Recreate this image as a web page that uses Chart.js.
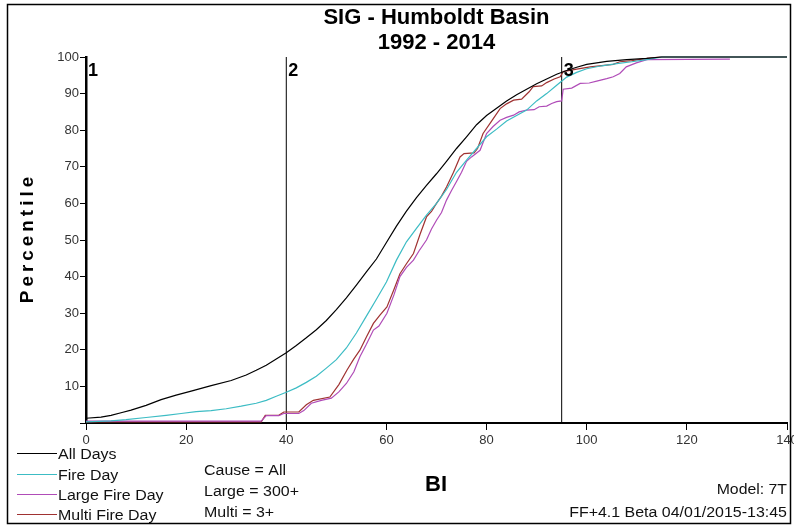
<!DOCTYPE html>
<html>
<head>
<meta charset="utf-8">
<title>SIG - Humboldt Basin</title>
<script src="https://cdn.jsdelivr.net/npm/chart.js@4.4.1/dist/chart.umd.min.js"></script>
<style>
  body { margin: 0; background: #fff; }
  canvas { display: block; }
</style>
</head>
<body>
<canvas id="chart" width="794" height="526"></canvas>
<script>
// series (BI value, percentile)
var allDaysX = [0, 3, 5, 7, 9, 12, 15, 18, 21, 25, 29, 32, 34, 36, 38, 40, 42, 44, 46, 48, 50, 52, 54, 56, 58, 60, 62, 64, 66, 68, 70, 72, 74, 76, 78, 80, 82, 84, 86, 88, 90, 92, 94, 96, 98, 100, 104, 108, 112, 115, 140];
var allDaysY = [1.3, 1.6, 2.1, 2.8, 3.5, 4.8, 6.4, 7.6, 8.7, 10.2, 11.6, 13.1, 14.4, 15.8, 17.5, 19.2, 21.2, 23.3, 25.5, 28, 31, 34.2, 37.7, 41.3, 44.8, 49.3, 53.8, 57.9, 61.6, 64.9, 68.1, 71.5, 75, 78.2, 81.5, 84, 86, 88, 89.7, 91.2, 92.7, 94, 95.3, 96.3, 97.2, 98, 98.8, 99.3, 99.6, 100, 100];

var fireDayX = [0, 5, 8, 12, 16, 19, 22, 25, 28, 31, 34, 36, 38, 40, 42, 44, 46, 48, 50, 52, 54, 56, 58, 60, 62, 64, 66, 68, 70, 72, 74, 76, 78, 80, 82, 84, 86, 88, 90, 92, 94, 96, 98, 100, 103, 106, 109, 112, 115, 140];
var fireDayY = [0.3, 0.6, 0.9, 1.5, 2.1, 2.6, 3.1, 3.4, 3.9, 4.6, 5.4, 6.2, 7.3, 8.4, 9.6, 11.1, 12.8, 15, 17.3, 20.5, 24.6, 29.2, 33.8, 38.5, 44.5, 49.5, 53.2, 56.8, 60, 63.8, 68.5, 71.8, 75, 78.2, 80.3, 82.5, 84, 85.5, 88, 90, 92.3, 94.5, 95.8, 96.8, 97.6, 98.2, 98.7, 99.3, 100, 100];

var largeX = [0, 35, 36, 38.5, 39.5, 42.5, 43.5, 45, 47, 49, 50.5, 52, 53.5, 54.7, 56, 57.4, 58.5, 60.1, 61.5, 62.7, 64, 65.4, 66.5, 68, 69, 70, 71, 72, 73, 74, 75, 76, 77, 78.7, 80, 81.3, 82.7, 84, 85.4, 86.5, 88, 89.5, 90.5, 92, 93, 94, 95, 95.3, 97, 98.7, 100.5, 102, 104, 105.3, 106.6, 107.9, 109.9, 112, 128.6];
var largeY = [0.5, 0.5, 2.0, 2.0, 2.6, 2.6, 3.4, 5.4, 6.2, 6.8, 8.5, 10.8, 14, 18.1, 21.5, 25.4, 26.5, 30, 35, 40, 42.5, 44.5, 47, 50, 53, 55.4, 57.5, 60.9, 63.5, 66, 68.5, 71.5, 72.7, 74.5, 79.1, 81, 82.7, 83.5, 84.1, 85, 85.5, 85.6, 86.4, 86.6, 87.3, 87.8, 88, 91.2, 91.5, 92.8, 92.9, 93.4, 94.1, 94.6, 95.5, 97.3, 98.4, 99.3, 99.4];

var multiX = [0, 35, 35.8, 38.5, 39.5, 42.5, 44, 45.4, 48.7, 50.5, 52.1, 53.5, 54.7, 56, 57.4, 58.7, 60.1, 61.5, 62.7, 64, 65.4, 66.7, 68, 69, 70, 71, 72, 73.4, 74.7, 75.5, 77.5, 78.2, 79.3, 81, 82.7, 84, 85.4, 87, 88.5, 89.3, 91, 92, 93.5, 94.7, 95.3, 98, 100.7, 105.3, 106.6, 109, 112, 114.6, 140];
var multiY = [0.3, 0.3, 2.1, 2.1, 3.0, 3.0, 5, 6.2, 7.1, 10.5, 14.4, 17.5, 19.9, 23.5, 27.2, 29.5, 31.7, 36.5, 40.8, 43.5, 46.3, 51.5, 56.3, 57.8, 60, 62, 64.5, 68.5, 72.7, 73.6, 73.8, 75, 79.1, 82.5, 85.9, 87.2, 88.2, 88.5, 90.5, 91.9, 92.1, 93, 94, 94.6, 96.0, 96.7, 97.3, 98, 98.7, 99, 99.6, 100, 100];

var seriesNames = ['All Days', 'Fire Day', 'Large Fire Day', 'Multi Fire Day'];
var seriesColors = ['#000000', '#3cbcc4', '#b04cb8', '#a03232'];

// breakpoint lines 1, 2, 3 (BI)
var markerBI = [0, 40, 95];
var markerLabels = ['1', '2', '3'];

var notes = ['Cause = All', 'Large = 300+', 'Multi = 3+'];
var titleLines = ['SIG - Humboldt Basin', '1992 - 2014'];

function pts(xs, ys) {
    return xs.map(function (x, i) { return { x: x, y: ys[i] }; });
}

// text with a horizontal stretch factor
function drawText(ctx, s, x, y, font, align, sx) {
    sx = sx || 1;
    ctx.save();
    ctx.font = font;
    ctx.textAlign = 'left';
    ctx.textBaseline = 'alphabetic';
    var w = ctx.measureText(s).width * sx;
    var left = align === 'center' ? x - w / 2 : (align === 'right' ? x - w : x);
    ctx.translate(left, y);
    ctx.scale(sx, 1);
    ctx.fillText(s, 0, 0);
    ctx.restore();
}

var decor = {
    id: 'decor',
    beforeDraw: function (chart) {
        var ctx = chart.ctx;
        ctx.save();
        ctx.fillStyle = '#fff';
        ctx.fillRect(0, 0, chart.width, chart.height);
        ctx.restore();
    },
    afterDraw: function (chart) {
        var ctx = chart.ctx;
        var xs = chart.scales.x, ys = chart.scales.y;
        var cx = (chart.chartArea.left + chart.chartArea.right) / 2;
        var sans = '"Liberation Sans", Arial';
        ctx.save();
        ctx.fillStyle = '#000';

        // title
        drawText(ctx, titleLines[0], cx, 24, 'bold 22px ' + sans, 'center');
        drawText(ctx, titleLines[1], cx, 49, 'bold 22px ' + sans, 'center');

        // marker numbers
        markerBI.forEach(function (v, i) {
            var px = xs.getPixelForValue(v);
            drawText(ctx, markerLabels[i], px + 2, ys.getPixelForValue(100) + 19, 'bold 18px ' + sans, 'left');
        });

        // y title, letter spaced
        ctx.save();
        ctx.font = 'bold 18px ' + sans;
        ctx.translate(33, (chart.chartArea.top + chart.chartArea.bottom) / 2);
        ctx.rotate(-Math.PI / 2);
        var word = 'Percentile', gap = 4;
        var total = ctx.measureText(word).width * 1.05 + gap * (word.length - 1);
        var pos = -total / 2;
        for (var k = 0; k < word.length; k++) {
            ctx.save();
            ctx.translate(pos, 0);
            ctx.scale(1.05, 1);
            ctx.fillText(word[k], 0, 0);
            ctx.restore();
            pos += ctx.measureText(word[k]).width * 1.05 + gap;
        }
        ctx.restore();

        // x title
        drawText(ctx, 'BI', 425, 491, 'bold 22px ' + sans, 'left');

        // legend
        var legendBase = [459, 480, 500, 520];
        seriesNames.forEach(function (name, i) {
            ctx.strokeStyle = seriesColors[i];
            ctx.lineWidth = 1;
            ctx.beginPath();
            ctx.moveTo(17, legendBase[i] - 5.5);
            ctx.lineTo(57, legendBase[i] - 5.5);
            ctx.stroke();
            ctx.fillStyle = '#111';
            drawText(ctx, name, 58, legendBase[i], '14px ' + sans, 'left', 1.14);
        });

        // notes
        ctx.fillStyle = '#111';
        var noteBase = [475, 496, 517];
        notes.forEach(function (n, i) {
            drawText(ctx, n, 204, noteBase[i], '14px ' + sans, 'left', 1.14);
        });
        drawText(ctx, 'Model: 7T', 787, 494, '14px ' + sans, 'right', 1.13);
        drawText(ctx, 'FF+4.1 Beta 04/01/2015-13:45', 787, 517, '14px ' + sans, 'right', 1.14);

        // frame
        ctx.strokeStyle = '#000';
        ctx.lineWidth = 1.5;
        ctx.strokeRect(7.5, 4.5, 783, 519);
        ctx.restore();
    }
};

var datasets = [
    pts(allDaysX, allDaysY),
    pts(fireDayX, fireDayY),
    pts(largeX, largeY),
    pts(multiX, multiY)
].map(function (d, i) {
    return {
        label: seriesNames[i],
        data: d,
        borderColor: seriesColors[i],
        borderWidth: 1.2,
        pointRadius: 0,
        tension: 0,
        fill: false,
        clip: 3
    };
});

markerBI.slice(1).forEach(function (v) {
    datasets.push({
        label: 'marker',
        data: [{ x: v, y: 0 }, { x: v, y: 100 }],
        borderColor: '#000',
        borderWidth: 1,
        pointRadius: 0,
        fill: false
    });
});

new Chart(document.getElementById('chart').getContext('2d'), {
    type: 'line',
    data: { datasets: datasets },
    options: {
        responsive: false,
        animation: false,
        layout: { padding: { top: 57, right: 7, left: 0, bottom: 0 } },
        plugins: {
            legend: { display: false },
            title: { display: false },
            tooltip: { enabled: false }
        },
        scales: {
            x: {
                type: 'linear',
                min: 0,
                max: 140,
                ticks: {
                    stepSize: 20,
                    color: '#333',
                    padding: 3,
                    maxRotation: 0,
                    font: { family: '"Liberation Sans", Arial', size: 13 }
                },
                grid: { drawOnChartArea: false, drawTicks: true, tickLength: 7, color: '#000' },
                border: { color: '#000', width: 2 },
                afterFit: function (s) { s.height = 103; s.paddingLeft = 0; s.paddingRight = 0; }
            },
            y: {
                min: 0,
                max: 100,
                ticks: {
                    stepSize: 10,
                    color: '#333',
                    padding: 1,
                    font: { family: '"Liberation Sans", Arial', size: 13 },
                    callback: function (v) { return v === 0 ? '' : v; }
                },
                grid: { drawOnChartArea: false, drawTicks: true, tickLength: 6, color: '#000' },
                border: { color: '#000', width: 2.5 },
                afterFit: function (s) { s.width = 86; s.paddingTop = 0; s.paddingBottom = 0; }
            }
        }
    },
    plugins: [decor]
});
</script>
</body>
</html>
